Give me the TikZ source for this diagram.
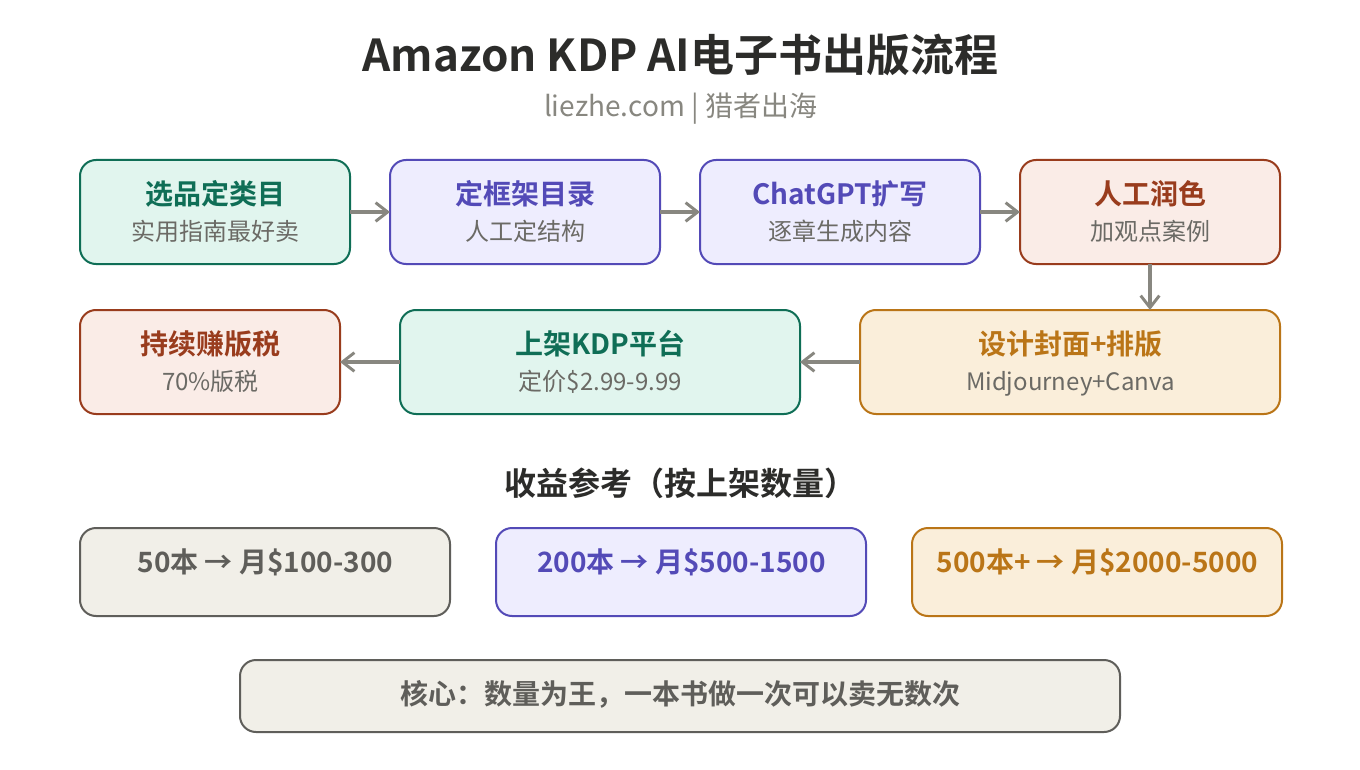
\documentclass[tikz,border=0pt]{standalone}
\usepackage{fontspec}
\setmainfont{Noto Sans CJK SC}[BoldFont={Noto Sans CJK SC Bold}]
\usetikzlibrary{arrows.meta}
\definecolor{gline}{HTML}{0F6E56}\definecolor{gfill}{HTML}{E1F5EE}
\definecolor{pline}{HTML}{534AB7}\definecolor{pfill}{HTML}{EEEDFE}
\definecolor{rline}{HTML}{993C1D}\definecolor{rfill}{HTML}{FAECE7}
\definecolor{oline}{HTML}{BA7517}\definecolor{ofill}{HTML}{FAEEDA}
\definecolor{nline}{HTML}{5F5E5A}\definecolor{nfill}{HTML}{F1EFE8}
\definecolor{ink}{HTML}{2C2C2A}\definecolor{sub}{HTML}{6B6A65}\definecolor{mut}{HTML}{888780}
\tikzset{
 x=0.75pt,y=-0.75pt,
 card/.style={draw=#1line,fill=#1fill,line width=1.5pt,rounded corners=12pt,inner sep=0pt},
 conn/.style={draw=mut,line width=2.4pt,-{Straight Barb[length=9pt,width=14pt,line width=2.2pt]}},
 ttl/.style={font=\fontsize{21pt}{26pt}\selectfont\bfseries,text=#1,inner sep=0pt,anchor=base},
 subt/.style={font=\fontsize{18pt}{22pt}\selectfont,text=sub,inner sep=0pt,anchor=base},
}
\newcommand{\cardbox}[6]{% name,color,x0,y0,x1,y1
 \path[card=#2] (#3,#4) rectangle (#5,#6);
 \coordinate (#1) at ({(#3+#5)/2},{(#4+#6)/2});
 \coordinate (#1L) at (#3,{(#4+#6)/2});
 \coordinate (#1R) at (#5,{(#4+#6)/2});
 \coordinate (#1T) at ({(#3+#5)/2},#4);
 \coordinate (#1B) at ({(#3+#5)/2},#6);
}
\begin{document}
\begin{tikzpicture}
\useasboundingbox (0,0) rectangle (1360,770);
\fill[white] (0,0) rectangle (1360,770);
\node[inner sep=0pt,anchor=base,text=ink,font=\fontsize{33pt}{40pt}\selectfont\bfseries] (title) at (680.5,72) {Amazon KDP AI电子书出版流程};
\node[inner sep=0pt,anchor=base,text=mut,font=\fontsize{21pt}{26pt}\selectfont] (subtitle) at (680.5,117) {liezhe.com | 猎者出海};
\cardbox{a}{g}{80}{160}{350}{264}
\cardbox{b}{p}{390}{160}{660}{264}
\cardbox{c}{p}{700}{160}{980}{264}
\cardbox{d}{r}{1020}{160}{1280}{264}
\cardbox{e}{o}{860}{310}{1280}{414}
\cardbox{f}{g}{400}{310}{800}{414}
\cardbox{h}{r}{80}{310}{340}{414}
\node[ttl=gline] (at) at (215,204.6) {选品定类目};
\node[subt] (as) at (215,240) {实用指南最好卖};
\node[ttl=pline] (bt) at (525,204.6) {定框架目录};
\node[subt] (bs) at (525,240) {人工定结构};
\node[ttl=pline] (ct) at (840,204.6) {ChatGPT扩写};
\node[subt] (cs) at (840,240) {逐章生成内容};
\node[ttl=rline] (dt) at (1150,204.6) {人工润色};
\node[subt] (ds) at (1150,240) {加观点案例};
\node[ttl=oline] (et) at (1070.4,354.4) {设计封面+排版};
\node[subt] (es) at (1070.4,390) {Midjourney+Canva};
\node[ttl=gline] (ft) at (600.4,354.4) {上架KDP平台};
\node[subt] (fs) at (600.4,390) {定价\$2.99-9.99};
\node[ttl=rline] (ht) at (210,354.4) {持续赚版税};
\node[subt] (hs) at (210.4,390) {70\%版税};
\draw[conn] (aR) -- (bL);
\draw[conn] (bR) -- (cL);
\draw[conn] (cR) -- (dL);
\draw[conn] (dB) -- (dB |- eT);
\draw[conn] (eL) -- (fR);
\draw[conn] (fL) -- (hR);
\node[inner sep=0pt,anchor=base,text=ink,font=\fontsize{24pt}{30pt}\selectfont\bfseries] (head) at (680,495.5) {收益参考（按上架数量）};
\cardbox{p}{n}{80}{528}{450}{616}
\cardbox{q}{p}{496}{528}{866}{616}
\cardbox{r}{o}{912}{528}{1282}{616}
\cardbox{s}{n}{240}{660}{1120}{732}
\node[ttl=nline] (pt) at (265.4,572) {50本 → 月\$100-300};
\node[ttl=pline] (qt) at (681.4,572) {200本 → 月\$500-1500};
\node[ttl=oline] (rt) at (1097.4,572) {500本+ → 月\$2000-5000};
\node[ttl=nline] (st) at (680,704) {核心：数量为王，一本书做一次可以卖无数次};
\end{tikzpicture}
\end{document}
